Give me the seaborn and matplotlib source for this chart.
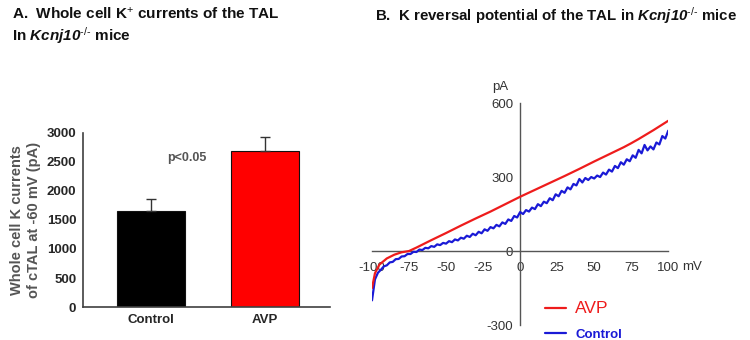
"""
Kcnj10-/- TAL: whole cell K+ currents (bar) and I-V curves (AVP vs Control).
"""
import matplotlib; matplotlib.use("Agg")
import matplotlib.pyplot as plt
import seaborn as sns
import pandas as pd

# ── Panel A data ──────────────────────────────────────────────────────────────
GROUPS = ["Control", "AVP"]
MEANS  = [1655, 2690]
ERRS   = [200, 240]
BAR_COLORS = ["#000000", "#ff0000"]
YTICKS_A = [0, 500, 1000, 1500, 2000, 2500, 3000]

# ── Panel B data (mV, pA) ─────────────────────────────────────────────────────
AVP_MV = [-100, -98, -95, -90, -85, -80, -75, -70, -60, -50, -40, -30, -25, -20,
          -10, 0, 10, 20, 25, 30, 40, 50, 60, 70, 75, 80, 90, 100]
AVP_PA = [-150, -90, -55, -30, -15, -5, 0, 14, 44, 73, 103, 132, 146, 160,
          190, 220, 248, 276, 290, 304, 333, 363, 392, 421, 437, 454, 490, 528]

CTL_MV = list(range(-100, 101, 2))
CTL_PA = [-200, -115, -88, -76, -62, -58, -46, -44, -33, -32,
          -22, -21, -12, -12, -3, -4, 6, 4, 13, 11,
          20, 17, 27, 24, 33, 30, 40, 36, 47, 43,
          54, 50, 62, 57, 70, 64, 78, 72, 88, 82,
          97, 92, 106, 100, 116, 110, 128, 122, 142, 136,
          158, 150, 166, 160, 176, 170, 190, 182, 200, 194,
          214, 206, 230, 222, 244, 236, 258, 250, 272, 266,
          292, 278, 296, 288, 300, 294, 306, 300, 318, 310,
          330, 322, 345, 336, 360, 350, 372, 364, 388, 378,
          410, 396, 430, 408, 424, 412, 440, 432, 466, 456,
          488]
XTICKS_B = [-100, -75, -50, -25, 0, 25, 50, 75, 100]
YTICKS_B = [-300, 0, 300, 600]

sns.set_theme(style="white")
plt.rcParams["font.family"] = ["Liberation Sans", "DejaVu Sans"]
plt.rcParams["axes.unicode_minus"] = False
plt.rcParams["mathtext.fontset"] = "custom"
plt.rcParams["mathtext.rm"] = "Liberation Sans"
plt.rcParams["mathtext.it"] = "Liberation Sans:italic"
plt.rcParams["mathtext.bf"] = "Liberation Sans:bold"
plt.rcParams["mathtext.bfit"] = "Liberation Sans:bold:italic"

fig = plt.figure(figsize=(7.5, 3.4), dpi=100)

# ── Panel A ───────────────────────────────────────────────────────────────────
ax = fig.add_axes([0.111, 0.097, 0.329, 0.512])
df = pd.DataFrame({"group": GROUPS, "mean": MEANS})
sns.barplot(data=df, x="group", y="mean", hue="group", palette=BAR_COLORS,
            saturation=1, width=0.6, edgecolor="#111111", linewidth=0.8,
            legend=False, ax=ax)
ax.errorbar(range(len(GROUPS)), MEANS, yerr=[[0] * len(ERRS), ERRS], fmt="none",
            ecolor="#333333", elinewidth=1.0, capsize=3.5, capthick=1.0)
ax.set_ylim(0, 3000)
ax.set_xlim(-0.596, 1.57)
ax.set_yticks(YTICKS_A)
ax.tick_params(axis="y", direction="out", length=3, width=1, color="#404040",
               labelsize=9.5, pad=2)
ax.tick_params(axis="x", length=0, labelsize=9.5, pad=5)
for lab in ax.get_yticklabels() + ax.get_xticklabels():
    lab.set_fontweight("bold")
ax.set_xlabel("")
ax.set_ylabel("Whole cell K currents\nof cTAL at -60 mV (pA)", fontsize=10.5,
              fontweight="bold", color="#555555", labelpad=4, linespacing=1.25)
ax.spines[["top", "right"]].set_visible(False)
for s in ["left", "bottom"]:
    ax.spines[s].set_color("#404040")
    ax.spines[s].set_linewidth(1.2)
ax.text(0.31, 2560, "p<0.05", ha="center", va="center", fontsize=9,
        fontweight="bold", color="#555555")

fig.text(0.016, 0.985, r"A.  Whole cell K$^{+}$ currents of the TAL",
         fontsize=11, fontweight="bold", va="top", color="#111111")
fig.text(0.016, 0.925, r"In $\bfit{Kcnj10}^{\text{-/-}}$ mice",
         fontsize=11, fontweight="bold", va="top", color="#111111")

# ── Panel B ───────────────────────────────────────────────────────────────────
bx = fig.add_axes([0.496, 0.044, 0.395, 0.653])
sns.lineplot(x=CTL_MV, y=CTL_PA, color="#1a1ad6", lw=1.6, label="Control", ax=bx,
             zorder=4)
sns.lineplot(x=AVP_MV, y=AVP_PA, color="#ee1c1c", lw=1.6, label="AVP", ax=bx,
             zorder=5)
bx.set_xlim(-100, 100)
bx.set_ylim(-300, 600)
bx.spines[["top", "right"]].set_visible(False)
bx.spines["left"].set_position(("data", 0))
bx.spines["bottom"].set_position(("data", 0))
for s in ["left", "bottom"]:
    bx.spines[s].set_color("#555555")
    bx.spines[s].set_linewidth(1.0)
bx.set_xticks(XTICKS_B)
bx.set_yticks(YTICKS_B)
bx.tick_params(axis="both", direction="out", length=3, width=1, color="#555555",
               labelsize=9.5, labelcolor="#333333", pad=2)
bx.tick_params(axis="x", pad=5)
bx.text(-8, 640, "pA", ha="right", va="bottom", fontsize=9.5, color="#333333")
bx.annotate("mV", xy=(100, 0), xytext=(10, -7), textcoords="offset points",
            ha="left", va="top", fontsize=9.5, color="#333333")

h, l = bx.get_legend_handles_labels()
leg = bx.legend(h[::-1], l[::-1], loc="upper left", bbox_to_anchor=(0.708, 0.155),
                bbox_transform=fig.transFigure, frameon=False, handlelength=1.4,
                handletextpad=0.6, labelspacing=0.75, labelcolor="linecolor")
leg.get_texts()[0].set_fontsize(12.5)
leg.get_texts()[1].set_fontsize(9.5)
leg.get_texts()[1].set_fontweight("bold")

fig.text(0.500, 0.985, r"B.  K reversal potential of the TAL in $\bfit{Kcnj10}^{\text{-/-}}$ mice",
         fontsize=10.8, fontweight="bold", va="top", color="#111111")

fig.savefig("out.png", dpi=100)
